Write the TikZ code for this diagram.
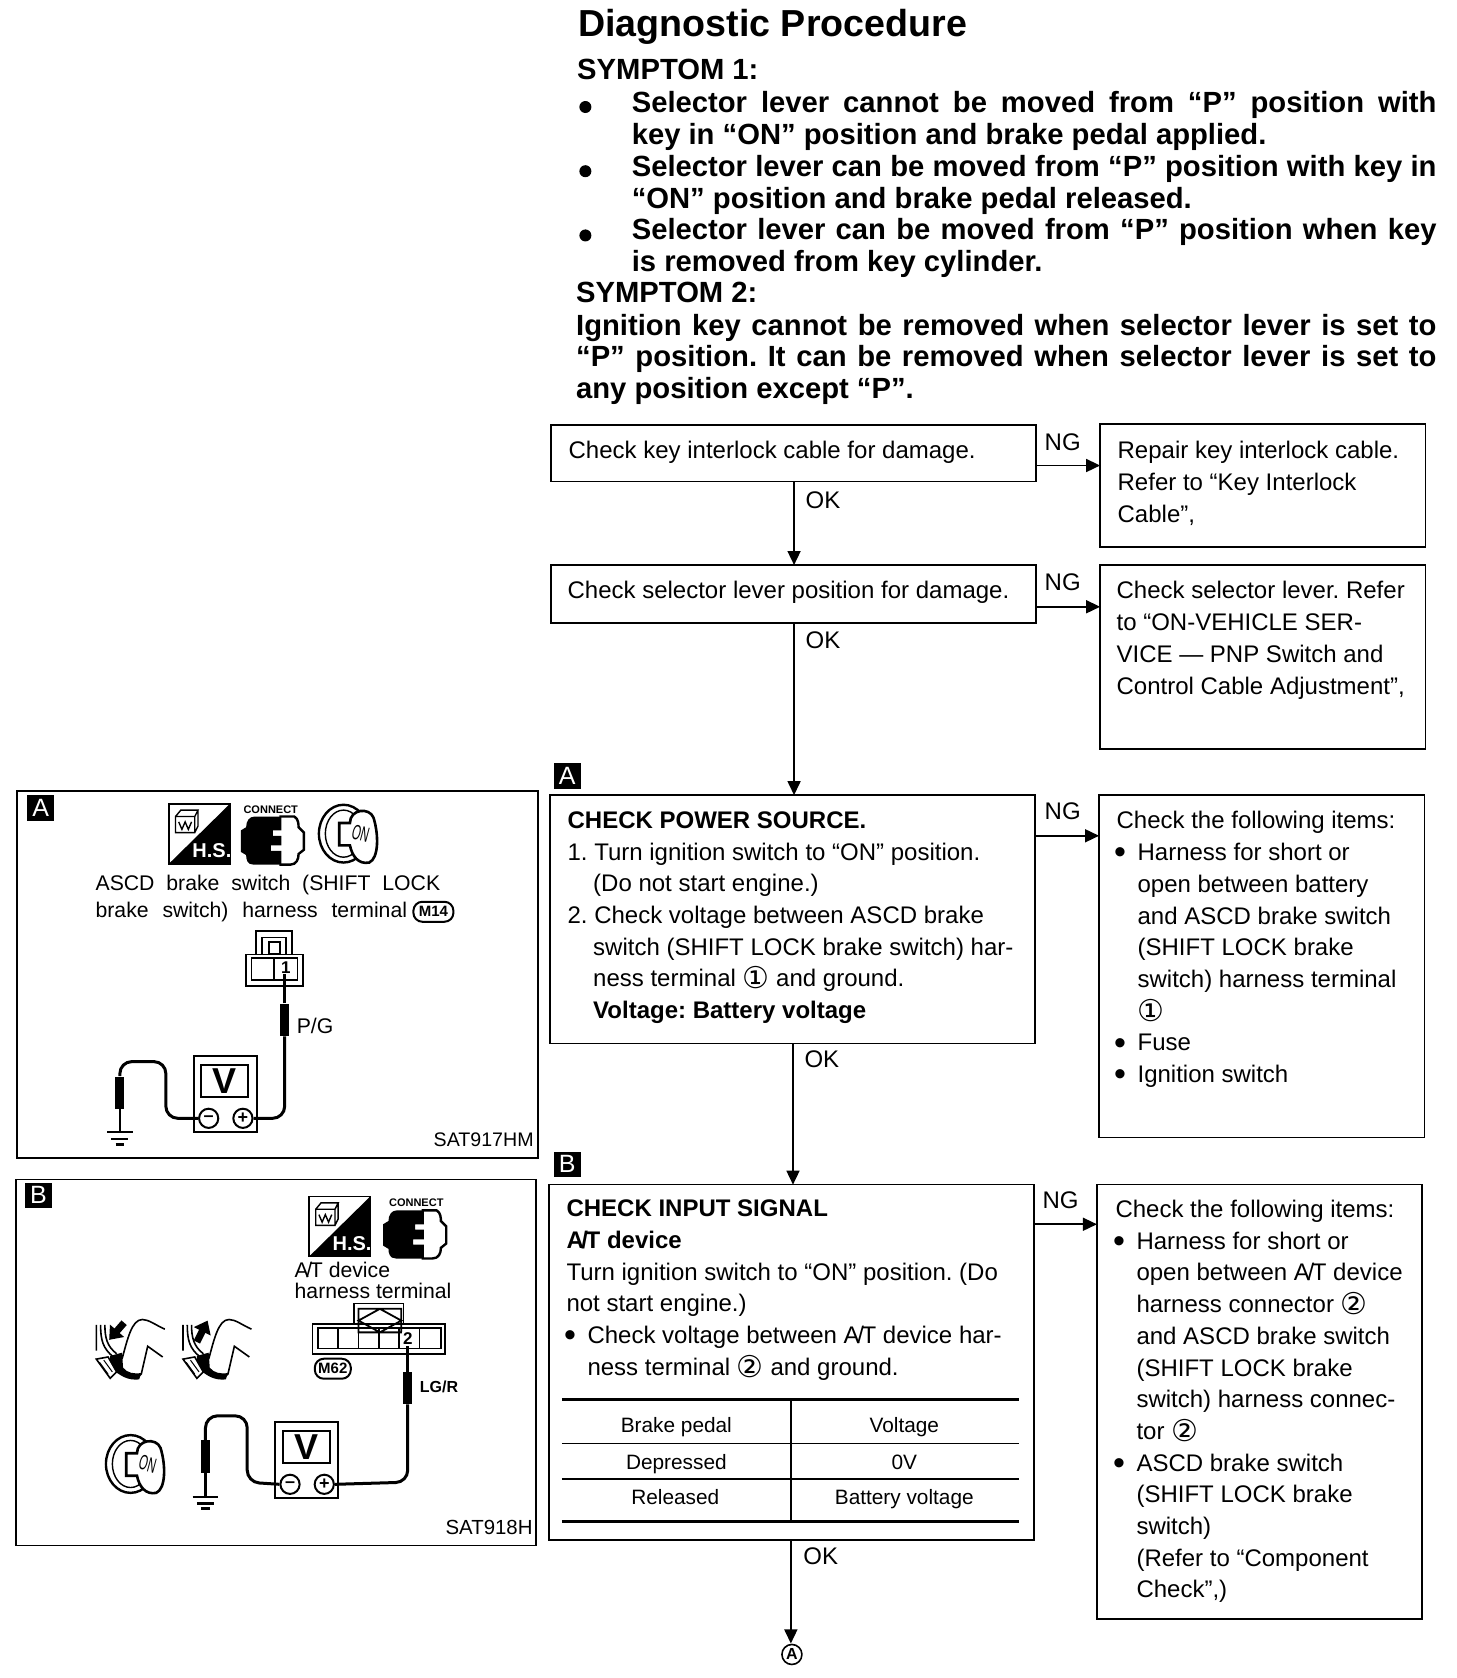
\documentclass[tikz,border=0pt]{standalone}
\usepackage{fontspec}
\usepackage{amsmath,amssymb}
\usepackage{xcolor}
\setmainfont{Liberation Sans}
\newfontfamily\symfont{DejaVu Sans}
\usetikzlibrary{arrows.meta}
\def\pxu{0.5349pt}
\newcommand{\jline}[2]{\makebox[\dimexpr#1pt*5349/10000\relax][s]{#2}}
\newcommand{\cnum}[1]{{\symfont\fontsize{15}{15}\selectfont\raisebox{-1pt}{#1}}}
\newcommand{\ind}{\hspace*{12.8pt}}
\newcommand{\bul}{\makebox[10.5pt][l]{\hspace*{-1.2pt}\fontsize{17}{15}\selectfont\raisebox{-1.6pt}{\textbullet}}}
\newcommand{\bulind}{\hspace*{10.5pt}}
\newcommand{\AT}{A\kern-1.2pt/\kern-1.2pt T}
% a box drawn from its corners: name, x1, y1, x2, y2
\newcommand{\flowbox}[5]{\node[box,minimum width={(#4-#2)*\pxu},minimum height={(#5-#3)*\pxu}] (#1) at (#2,#3) {};}
\tikzset{
  box/.style={draw,line width=0.8pt,inner sep=0pt,outer sep=0pt,anchor=north west},
  flow/.style={line width=0.8pt,-{Triangle[length=7pt,width=6.5pt]}},
  bodytxt/.style={inner sep=0pt,anchor=north west,align=left,font=\fontsize{12}{15.85}\selectfont},
  headtxt/.style={inner sep=0pt,anchor=north west,align=left,font=\fontsize{14.6}{15.85}\selectfont\bfseries},
  cell/.style={inner sep=0pt,font=\fontsize{10.4}{12}\selectfont},
  okng/.style={inner sep=0pt,font=\fontsize{12}{12}\selectfont},
  tag/.style={fill=black,text=white,inner sep=0pt,minimum width=13.5pt,minimum height=12.8pt,font=\fontsize{12.5}{12}\selectfont},
  wire/.style={line width=1.5pt,rounded corners=6pt},
  probe/.style={fill=black,inner sep=0pt,minimum width=4.4pt,minimum height=16pt},
  oval/.style={draw,line width=1pt,rounded corners=4.5pt,inner sep=1pt,minimum width=20pt,minimum height=10pt,font=\fontsize{7.5}{8}\selectfont\bfseries},
  hsicon/.pic={
    \draw[line width=0.9pt] (0,0) rectangle (57,56);
    \fill (57,0) -- (57,56) -- (0,56) -- cycle;
    \node[white,inner sep=0pt,font=\fontsize{10}{10}\selectfont\bfseries] (hstxt) at (40,44) {H.S.};
    \draw[line width=0.7pt] (6,12) rectangle (24,27) (6,12) -- (11,6) -- (27,6) -- (24,12) (27,6) -- (27,21) -- (24,27);
    \draw[line width=0.7pt] (9,17) -- (12,24) -- (15,17) -- (18,24) -- (21,17);
  },
  connicon/.pic={
    \draw[line width=1.2pt] (36,0) -- (50,0) .. controls (54,2) and (54,8) .. (54,10) -- (59,15) -- (59,31) -- (54,35) .. controls (54,40) and (52,45) .. (46,45) -- (36,45);
    \fill (13,0) -- (38,0) -- (38,13) -- (30,13) -- (30,18) -- (38,18) -- (38,27) -- (28,27) -- (28,32) -- (38,32) -- (38,45) -- (12,45) .. controls (6,45) and (5,40) .. (5,36) -- (0,33) -- (0,13) -- (5,10) .. controls (5,4) and (8,0) .. (13,0) -- cycle;
  },
  keyicon/.pic={
    \draw[line width=1.2pt,fill=white] (24,27) ellipse (23 and 27);
    \draw[line width=0.7pt] (24,27) ellipse (17 and 22);
    \draw[line width=1.3pt,fill=white] (20,17) -- (30,17) .. controls (30,4) and (48,2) .. (52,12) .. controls (57,28) and (57,50) .. (48,54) .. controls (38,56) and (32,48) .. (30,38) -- (20,38) -- cycle;
    \node[inner sep=0pt,rotate=-15,xscale=0.75,yscale=1.4,font=\fontsize{7.5}{8}\selectfont] (ontxt) at (40,27) {ON};
  },
  pedalicon/.pic={
    \draw[line width=0.8pt] (65,10) .. controls (56,6) and (50,1) .. (44,1) .. controls (34,1) and (30,20) .. (25,38);
    \draw[line width=0.8pt] (63,36) -- (49,26) -- (43,52) -- (38,56);
    \draw[line width=0.8pt] (1,6) -- (1,30) (5,6) .. controls (5,20) and (7,28) .. (17,36) (9,6) .. controls (9,18) and (11,26) .. (20,33);
    \fill (14,35) -- (25,32) -- (26,46) .. controls (30,51) and (36,52) .. (43,51) -- (41,57) .. controls (30,58) and (24,54) .. (14,46) -- cycle;
    \draw[line width=0.8pt,fill=white] (1,38) -- (12,36) -- (20,50) -- (14,56) -- cycle;
    \draw[line width=0.5pt] (4,41) -- (12,52) (8,39) -- (16,50);
  },
  meter/.pic={
    \draw[line width=1pt] (0,0) rectangle (59,71);
    \draw[line width=1pt] (7,8) rectangle (51,38);
    \node[inner sep=0pt,font=\fontsize{18}{18}\selectfont\bfseries] (vtxt) at (29,23) {V};
    \node[circle,draw,line width=1pt,fill=white,inner sep=0pt,minimum size=9.6pt,font=\fontsize{9}{9}\selectfont\bfseries] (minus) at (14,58) {--};
    \node[circle,draw,line width=1pt,fill=white,inner sep=0pt,minimum size=9.6pt,font=\fontsize{9}{9}\selectfont\bfseries] (plus) at (46,58) {+};
  },
  earth/.pic={
    \draw[line width=1.1pt] (-12,0) -- (12,0) (-8,6) -- (8,6);
    \draw[line width=1.5pt] (-4,11) -- (4,11);
  }
}
\begin{document}
\frenchspacing
\begin{tikzpicture}[x=0.5349pt,y=-0.5349pt]
  \useasboundingbox (0,0) rectangle (1361,1568);
  % heading and symptoms
  \node[inner sep=0pt,anchor=west,font=\fontsize{18.8}{20}\selectfont\bfseries] (title) at (540,25) {Diagnostic Procedure};
  \node[headtxt] (sym1) at (539,55) {SYMPTOM 1:};
  \node[circle,fill=black,inner sep=0pt,minimum size=6pt] (dot1) at (547,100) {};
  \node[circle,fill=black,inner sep=0pt,minimum size=6pt] (dot2) at (547,160) {};
  \node[circle,fill=black,inner sep=0pt,minimum size=6pt] (dot3) at (547,220) {};
  \node[headtxt] (par1) at (590,85) {\jline{752}{Selector lever cannot be moved from “P” position with}\\key in “ON” position and brake pedal applied.};
  \node[headtxt] (par2) at (590,145) {\jline{752}{Selector lever can be moved from “P” position with key in}\\“ON” position and brake pedal released.};
  \node[headtxt] (par3) at (590,204) {\jline{752}{Selector lever can be moved from “P” position when key}\\is removed from key cylinder.};
  \node[headtxt] (sym2) at (538,263) {SYMPTOM 2:};
  \node[headtxt] (par4) at (538,293) {\jline{804}{Ignition key cannot be removed when selector lever is set to}\\\jline{804}{“P” position. It can be removed when selector lever is set to}\\any position except “P”.};
  % flow chart boxes
  \flowbox{chkcable}{515}{397}{968}{450}
  \flowbox{repcable}{1028}{396}{1332}{511}
  \flowbox{chklever}{515}{528}{968}{582}
  \flowbox{replever}{1028}{528}{1332}{700}
  \flowbox{chkpower}{514}{743}{967}{975}
  \flowbox{reppower}{1027}{743}{1331}{1063}
  \flowbox{chkinput}{513}{1107}{966}{1439}
  \flowbox{repinput}{1025}{1107}{1329}{1513}
  \node[bodytxt] (txtcable) at (531,412) {Check key interlock cable for damage.};
  \node[bodytxt] (txtrepcable) at (1044,412) {Repair key interlock cable.\\Refer to “Key Interlock\\Cable”,};
  \node[bodytxt] (txtlever) at (530,543) {Check selector lever position for damage.};
  \node[bodytxt] (txtreplever) at (1043,543) {Check selector lever. Refer\\to “ON-VEHICLE SER-\\VICE — PNP Switch and\\Control Cable Adjustment”,};
  \node[bodytxt] (txtpower) at (530,758) {\textbf{CHECK POWER SOURCE.}\\1. Turn ignition switch to “ON” position.\\\ind (Do not start engine.)\\2. Check voltage between ASCD brake\\\ind switch (SHIFT LOCK brake switch) har-\\\ind ness terminal \cnum{①} and ground.\\\ind \textbf{Voltage: Battery voltage}};
  \node[bodytxt] (txtreppower) at (1043,758) {Check the following items:\\\bul Harness for short or\\\bulind open between battery\\\bulind and ASCD brake switch\\\bulind (SHIFT LOCK brake\\\bulind switch) harness terminal\\\bulind \cnum{①}\\\bul Fuse\\\bul Ignition switch};
  \node[bodytxt] (txtinput) at (529,1121) {\textbf{CHECK INPUT SIGNAL}\\\textbf{\AT{} device}\\Turn ignition switch to “ON” position. (Do\\not start engine.)\\\bul Check voltage between \AT{} device har-\\\bulind ness terminal \cnum{②} and ground.};
  \node[bodytxt] (txtrepinput) at (1042,1121) {Check the following items:\\\bul Harness for short or\\\bulind open between \AT{} device\\\bulind harness connector \cnum{②}\\\bulind and ASCD brake switch\\\bulind (SHIFT LOCK brake\\\bulind switch) harness connec-\\\bulind tor \cnum{②}\\\bul ASCD brake switch\\\bulind (SHIFT LOCK brake\\\bulind switch)\\\bulind (Refer to “Component\\\bulind Check”,)};
  % table inside the last box
  \draw[line width=1.7pt] (525,1308) -- (952,1308) (525,1422) -- (952,1422);
  \draw[line width=0.8pt] (525,1349) -- (952,1349) (525,1382) -- (952,1382) (739,1308) -- (739,1422);
  \node[cell] (hdpedal) at (632,1334) {Brake pedal};
  \node[cell] (hdvolt) at (845,1334) {Voltage};
  \node[cell] (rowdep) at (632,1368) {Depressed};
  \node[cell] (valdep) at (845,1366) {0V};
  \node[cell] (rowrel) at (631,1399) {Released};
  \node[cell] (valrel) at (845,1401) {Battery voltage};
  % flow arrows
  \coordinate (ngcable) at (1000,435);
  \coordinate (nglever) at (1000,567);
  \coordinate (ngpower) at (1000,781);
  \coordinate (nginput) at (1000,1144);
  \coordinate (okcable) at (742,500);
  \coordinate (okpower) at (741,1000);
  \coordinate (okinput) at (739,1480);
  \draw[flow] (chkcable.east |- ngcable) -- (repcable.west |- ngcable);
  \draw[flow] (chklever.east |- nglever) -- (replever.west |- nglever);
  \draw[flow] (chkpower.east |- ngpower) -- (reppower.west |- ngpower);
  \draw[flow] (chkinput.east |- nginput) -- (repinput.west |- nginput);
  \draw[flow] (chkcable.south -| okcable) -- (chklever.north -| okcable);
  \draw[flow] (chklever.south -| okcable) -- (chkpower.north -| okcable);
  \draw[flow] (chkpower.south -| okpower) -- (chkinput.north -| okpower);
  \node[circle,draw,line width=0.8pt,inner sep=0pt,minimum size=10pt,font=\fontsize{8}{8}\selectfont\bfseries] (endA) at (740,1546) {A};
  \draw[flow,shorten >=5.5pt] (chkinput.south -| okinput) -- (endA.center -| okinput);
  \node[okng] (ng1) at (993,413) {NG};
  \node[okng] (ng2) at (993,544) {NG};
  \node[okng] (ng3) at (993,758) {NG};
  \node[okng] (ng4) at (991,1122) {NG};
  \node[okng] (ok1) at (769,467) {OK};
  \node[okng] (ok2) at (769,598) {OK};
  \node[okng] (ok3) at (768,990) {OK};
  \node[okng] (ok4) at (767,1454) {OK};
  \node[tag] (tagA) at (530,725) {A};
  \node[tag] (tagB) at (530,1088) {B};
  % panel A
  \flowbox{panelA}{16}{739}{503}{1082}
  \node[tag] (tagpA) at (38,755) {A};
  \pic at (158,751) {hsicon};
  \pic at (225,763) {connicon};
  \node[inner sep=0pt,font=\fontsize{5.5}{6}\selectfont\bfseries] (conA) at (253,757) {CONNECT};
  \pic at (297,752) {keyicon};
  \node[inner sep=0pt,anchor=west,font=\fontsize{10.6}{12}\selectfont] (capA1) at (89,827) {\jline{322}{ASCD brake switch (SHIFT LOCK}};
  \node[inner sep=0pt,anchor=west,font=\fontsize{10.6}{12}\selectfont] (capA2) at (89,852) {\jline{291}{brake switch) harness terminal}};
  \node[oval] (ovalA) at (405,852) {M14};
  \draw[line width=0.9pt] (230,921) rectangle (283,892) (239,892) -- (239,870) -- (273,870) -- (273,892);
  \draw[line width=0.9pt] (235,895) rectangle (278,916) (256,895) -- (256,916) (245,892) -- (245,876) -- (267,876) -- (267,892);
  \draw[line width=0.9pt] (251,880) rectangle (262,891);
  \node[inner sep=0pt,font=\fontsize{8.5}{9}\selectfont\bfseries] (pinA) at (267,904) {1};
  \pic (mA) at (181,987) {meter};
  \node[probe] (probeA) at (266,953) {};
  \node[probe] (probeAg) at (112,1021) {};
  \pic at (112,1058) {earth};
  \draw[wire] (mAplus.east) -- (266,1045) -- (probeA.south);
  \draw[line width=1.5pt] (probeA.north) -- (pinA.south -| probeA);
  \draw[wire] (mAminus.west) -- (155,1045) -- (155,992) -- (112,992) -- (probeAg.north);
  \draw[line width=1.2pt] (probeAg.south) -- (112,1058);
  \node[inner sep=0pt,anchor=west,font=\fontsize{10.6}{12}\selectfont] (lblPG) at (277,959) {P/G};
  \node[inner sep=0pt,anchor=east,font=\fontsize{9.8}{12}\selectfont] (codeA) at (499,1065) {SAT917HM};
  % panel B
  \flowbox{panelB}{15}{1102}{501}{1444}
  \node[tag] (tagpB) at (36,1117) {B};
  \pic at (289,1118) {hsicon};
  \pic at (358,1131) {connicon};
  \node[inner sep=0pt,font=\fontsize{5.5}{6}\selectfont\bfseries] (conB) at (389,1124) {CONNECT};
  \node[inner sep=0pt,anchor=north west,align=left,font=\fontsize{10.6}{10.4}\selectfont] (capB) at (275,1179) {\AT{} device\\harness terminal};
  \draw[line width=0.9pt] (292,1265) rectangle (416,1237) (331,1237) -- (331,1218) -- (377,1218) -- (377,1237);
  \draw[line width=0.9pt] (297,1241) rectangle (412,1260) (316,1241) -- (316,1260) (335,1241) -- (335,1260) (354,1241) -- (354,1260) (373,1241) -- (373,1260) (392,1241) -- (392,1260);
  \draw[line width=0.9pt] (335,1223) rectangle (375,1245) (335,1234) -- (355,1223) -- (375,1234) -- (355,1245) -- cycle;
  \node[inner sep=0.5pt,fill=white,font=\fontsize{8.5}{9}\selectfont\bfseries] (pinB) at (381,1251) {2};
  \node[oval,minimum width=18pt] (ovalB) at (311,1279) {M62};
  \pic at (89,1232) {pedalicon};
  \pic at (170,1232) {pedalicon};
  \draw[line width=3.5pt,-{Triangle[length=6pt,width=9pt]}] (116,1236) -- (102,1252);
  \draw[line width=3.5pt,-{Triangle[length=6pt,width=9pt]}] (184,1254) -- (194,1234);
  \pic at (98,1341) {keyicon};
  \pic (mB) at (257,1329) {meter};
  \node[probe] (probeB) at (381,1297) {};
  \node[probe] (probeBg) at (192,1361) {};
  \pic at (192,1399) {earth};
  \draw[wire] (mBplus.east) -- (381,1385) -- (probeB.south);
  \draw[line width=1.5pt] (probeB.north) -- (pinB.south -| probeB);
  \draw[wire] (mBminus.west) -- (231,1385) -- (231,1323) -- (192,1323) -- (probeBg.north);
  \draw[line width=1.2pt] (probeBg.south) -- (192,1399);
  \node[inner sep=0pt,anchor=west,font=\fontsize{8}{9}\selectfont\bfseries] (lblLG) at (392,1296) {LG/R};
  \node[inner sep=0pt,anchor=east,font=\fontsize{10.2}{12}\selectfont] (codeB) at (498,1427) {SAT918H};
\end{tikzpicture}
\end{document}
